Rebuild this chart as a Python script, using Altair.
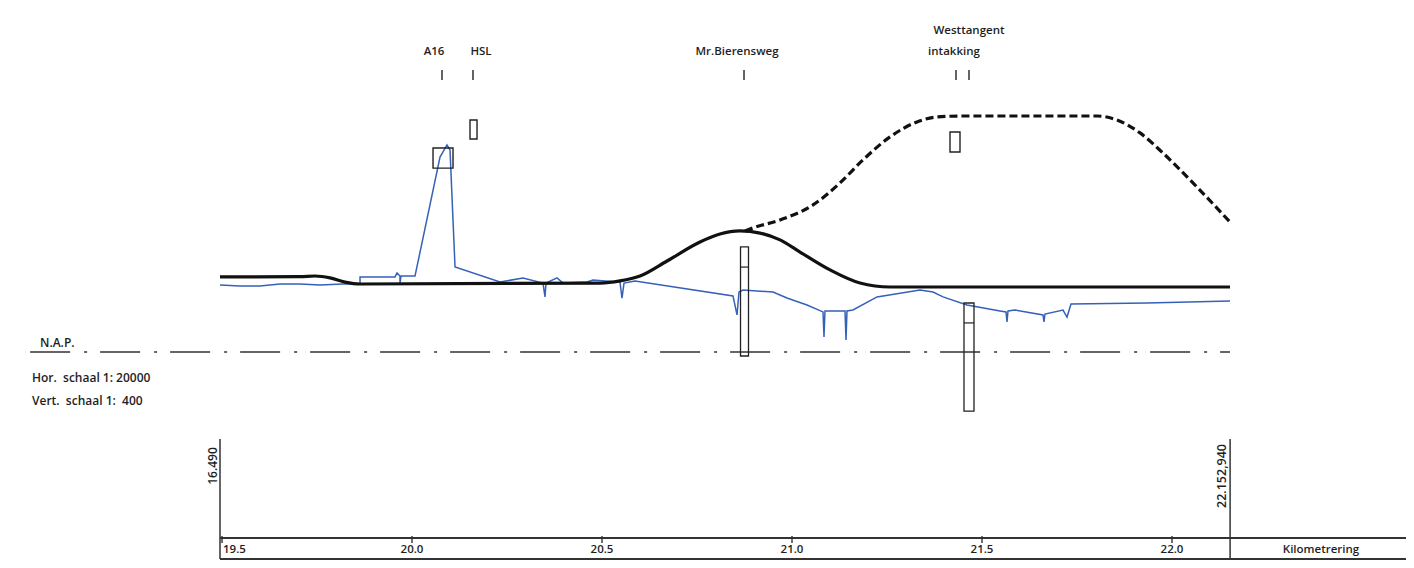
import altair as alt
import pandas as pd

# ---------------- data (chainage in km, elevation in m t.o.v. NAP) ----------------
ground_km = [19.4947, 19.5474, 19.6000, 19.6526, 19.7053, 19.7579, 19.8184, 19.8632, 19.8632,
             19.9553, 19.9605, 19.9684, 19.9684, 19.9711, 20.0079, 20.0737, 20.0921, 20.1000,
             20.1132, 20.2316, 20.2921, 20.3447, 20.3500, 20.3526, 20.3816, 20.3974, 20.4605,
             20.4763, 20.5474, 20.5526, 20.5579, 20.5868, 20.8447, 20.8553, 20.8605, 20.8711,
             20.9500, 20.9868, 21.0395, 21.0816, 21.0842, 21.0868, 21.1395, 21.1421, 21.1447,
             21.1605, 21.2237, 21.3368, 21.3711, 21.3974, 21.4605, 21.5474, 21.5632, 21.5658,
             21.5684, 21.5868, 21.6605, 21.6632, 21.6658, 21.7132, 21.7237, 21.7342, 21.9342,
             22.1526]
ground_m = [3.53, 3.47, 3.47, 3.58, 3.58, 3.53, 3.58, 3.58, 3.95,
            3.95, 4.16, 4.00, 3.63, 4.00, 4.00, 10.26, 10.90, 10.63,
            4.47, 3.68, 3.90, 3.63, 2.90, 3.63, 3.90, 3.63, 3.68,
            3.79, 3.68, 2.84, 3.63, 3.74, 2.95, 1.95, 3.16, 3.26,
            3.16, 2.84, 2.47, 2.11, 0.79, 2.16, 2.16, 0.63, 2.16,
            2.21, 2.90, 3.26, 3.16, 2.90, 2.47, 2.16, 2.11, 1.58,
            2.16, 2.21, 1.95, 1.58, 2.00, 2.21, 1.84, 2.53, 2.58,
            2.68]

road_km = [19.4947, 19.7053, 19.7447, 19.7842, 19.8237, 19.8632, 20.4947, 20.5474, 20.6000,
           20.6711, 20.7579, 20.8105, 20.8632, 20.9158, 20.9684, 21.0211, 21.1000, 21.1789,
           21.2579, 22.1526]
road_m = [3.95, 3.97, 4.00, 3.90, 3.68, 3.58, 3.63, 3.74, 4.00,
          4.79, 5.79, 6.21, 6.37, 6.26, 5.90, 5.26, 4.32, 3.63,
          3.42, 3.42]

variant_km = [20.8763, 20.8974, 20.9684, 21.0553, 21.1263, 21.1868, 21.2579, 21.3289, 21.3816,
              21.4500, 21.8026, 21.8553, 21.9158, 21.9763, 22.0658, 22.1526]
variant_m = [6.37, 6.53, 6.95, 7.74, 8.90, 10.11, 11.32, 12.11, 12.37,
             12.42, 12.42, 12.21, 11.53, 10.47, 8.68, 6.84]

box_km_left = [20.0553, 20.1526, 21.4158]
box_km_right = [20.1079, 20.1711, 21.4421]
box_top = [10.74, 12.21, 11.58]
box_bottom = [9.68, 11.21, 10.53]

pile_km_left = [20.8645, 21.4526]
pile_km_right = [20.8855, 21.4789]
pile_top = [5.53, 2.58]
pile_div = [4.47, 1.53]
pile_bottom = [-0.21, -3.11]

marker_km = [20.0789, 20.1605, 20.8737, 21.4316, 21.4658]

label_text = ["A16", "HSL", "Mr.Bierensweg", "intakking"]
label_km = [20.0579, 20.1816, 20.8553, 21.4263]
label_top_text = ["Westtangent"]
label_top_km = [21.4658]

nap_km = [18.995, 22.1526]
nap_m = [0.0, 0.0]

tick_km = [19.5, 20.0, 20.5, 21.0, 21.5, 22.0]
tick_labels = ["19.5", "20.0", "20.5", "21.0", "21.5", "22.0"]

start_km = 19.4947
end_km = 22.1529
start_label = "16.490"
end_label = "22.152,940"

# ---------------- chart ----------------
W, H = 1398, 552
FONT = "Open Sans"
TXT = "#1e1e1e"

xs = alt.Scale(domain=[18.9368, 22.6158], nice=False, zero=False)
ys = alt.Scale(domain=[-10.947, 18.105], nice=False, zero=False)


def X(f="km"):
    return alt.X(f"{f}:Q", scale=xs, axis=None)


def Y(f="m"):
    return alt.Y(f"{f}:Q", scale=ys, axis=None)


ground = pd.DataFrame({"km": ground_km, "m": ground_m, "i": range(len(ground_km))})
road = pd.DataFrame({"km": road_km, "m": road_m, "i": range(len(road_km))})
variant = pd.DataFrame({"km": variant_km, "m": variant_m, "i": range(len(variant_km))})
boxes = pd.DataFrame({"a": box_km_left, "b": box_km_right, "t": box_top, "u": box_bottom})
piles = pd.DataFrame({"a": pile_km_left, "b": pile_km_right, "t": pile_top,
                      "d": pile_div, "u": pile_bottom})
markers = pd.DataFrame({"km": marker_km})
labels = pd.DataFrame({"km": label_km, "txt": label_text})
labels_top = pd.DataFrame({"km": label_top_km, "txt": label_top_text})
nap = pd.DataFrame({"km": nap_km, "m": nap_m})
ticks = pd.DataFrame({"km": tick_km, "txt": tick_labels})
ends = pd.DataFrame({"km": [start_km, end_km]})

layers = []

# NAP dash-dot line
layers.append(
    alt.Chart(nap).mark_line(color="#333333", strokeWidth=1.6, strokeDash=[40, 14, 3, 13])
    .encode(x=X(), y=Y())
)

# ground level (blue)
layers.append(
    alt.Chart(ground).mark_line(color="#3562b8", strokeWidth=1.5)
    .encode(x=X(), y=Y(), order="i:Q")
)

# road profile (solid)
layers.append(
    alt.Chart(road).mark_line(color="#111111", strokeWidth=3.2, interpolate="monotone")
    .encode(x=X(), y=Y(), order="i:Q")
)

# alternative profile (dashed)
layers.append(
    alt.Chart(variant).mark_line(color="#111111", strokeWidth=3.2, strokeDash=[8, 4],
                                 interpolate="monotone")
    .encode(x=X(), y=Y(), order="i:Q")
)

# structure boxes
layers.append(
    alt.Chart(boxes).mark_rect(filled=False, stroke="#222222", strokeWidth=1.4)
    .encode(x=X("a"), x2="b:Q", y=Y("t"), y2="u:Q")
)

# piles
layers.append(
    alt.Chart(piles).mark_rect(filled=False, stroke="#222222", strokeWidth=1.3)
    .encode(x=X("a"), x2="b:Q", y=Y("t"), y2="u:Q")
)
layers.append(
    alt.Chart(piles).mark_rule(color="#222222", strokeWidth=1.2)
    .encode(x=X("a"), x2="b:Q", y=Y("d"))
)

# top marker ticks
layers.append(
    alt.Chart(markers).mark_rule(color="#222222", strokeWidth=1.4)
    .encode(x=X(), y=alt.value(62), y2=alt.value(72))
)

# top labels
layers.append(
    alt.Chart(labels).mark_text(font=FONT, fontSize=11.5, fontWeight=600, color=TXT,
                                align="center", baseline="middle")
    .encode(x=X(), y=alt.value(44), text="txt:N")
)
layers.append(
    alt.Chart(labels_top).mark_text(font=FONT, fontSize=11.5, fontWeight=600, color=TXT,
                                    align="center", baseline="middle")
    .encode(x=X(), y=alt.value(23), text="txt:N")
)

# left legend texts
left_texts = [("N.A.P.", 32, 335), ("Hor.\u00a0 schaal 1: 20000", 24, 370),
              ("Vert.\u00a0 schaal 1:\u00a0 400", 24, 393)]
for t, px, py in left_texts:
    layers.append(
        alt.Chart(nap.head(1)).mark_text(font=FONT, fontSize=12, fontWeight=600, color=TXT,
                                         align="left", baseline="middle", text=t)
        .encode(x=alt.value(px), y=alt.value(py))
    )

# bottom kilometre frame
layers.append(
    alt.Chart(ends.head(1)).mark_rule(color="#333333", strokeWidth=1.8)
    .encode(x=X(), x2=alt.value(W), y=alt.value(530))
)
layers.append(
    alt.Chart(ends.head(1)).mark_rule(color="#333333", strokeWidth=1.8)
    .encode(x=X(), x2=alt.value(W), y=alt.value(551))
)
layers.append(
    alt.Chart(ends).mark_rule(color="#333333", strokeWidth=1.5)
    .encode(x=X(), y=alt.value(431), y2=alt.value(551))
)
layers.append(
    alt.Chart(ticks).mark_rule(color="#333333", strokeWidth=1.4)
    .encode(x=X(), y=alt.value(528), y2=alt.value(535))
)
layers.append(
    alt.Chart(ticks).transform_filter(alt.datum.km == tick_km[0])
    .mark_text(font=FONT, fontSize=11.5, fontWeight=600, color=TXT, align="left",
               baseline="middle", dx=1)
    .encode(x=X(), y=alt.value(542), text="txt:N")
)
layers.append(
    alt.Chart(ticks).transform_filter(alt.datum.km != tick_km[0])
    .mark_text(font=FONT, fontSize=11.5, fontWeight=600, color=TXT, align="center",
               baseline="middle")
    .encode(x=X(), y=alt.value(542), text="txt:N")
)
layers.append(
    alt.Chart(ends.head(1)).mark_text(font=FONT, fontSize=11.5, fontWeight=600, color=TXT,
                                      align="center", baseline="middle",
                                      text="Kilometrering")
    .encode(x=alt.value(1313), y=alt.value(542))
)

# rotated start / end chainage labels
layers.append(
    alt.Chart(ends.head(1)).mark_text(font=FONT, fontSize=12, fontWeight=600, color=TXT,
                                      angle=270, align="center", baseline="alphabetic",
                                      text=start_label)
    .encode(x=alt.value(209), y=alt.value(458))
)
layers.append(
    alt.Chart(ends.head(1)).mark_text(font=FONT, fontSize=12.5, fontWeight=600, color=TXT,
                                      angle=270, align="center", baseline="alphabetic",
                                      text=end_label)
    .encode(x=alt.value(1218), y=alt.value(468))
)

chart = (
    alt.layer(*layers)
    .properties(width=W, height=H, autosize=alt.AutoSizeParams(type="none"), padding=0,
                background="white")
    .configure_view(stroke=None)
)

chart.save("out.html", embed_options={"renderer": "svg", "actions": False})
